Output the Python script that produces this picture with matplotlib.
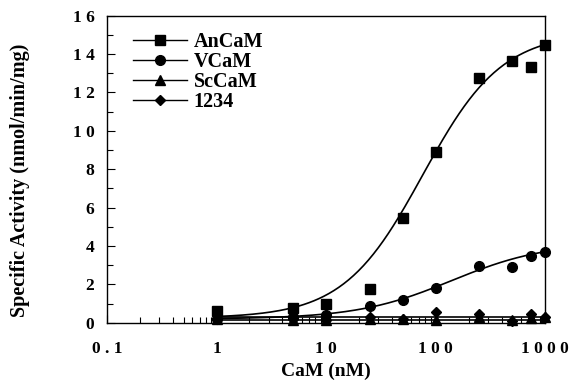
import numpy as np
import matplotlib
matplotlib.use("Agg")
import matplotlib.pyplot as plt
from matplotlib.ticker import FixedLocator, NullFormatter

plt.rcParams['font.family'] = ['Liberation Serif', 'DejaVu Serif']
plt.rcParams['font.weight'] = 'bold'

# Data
cam_nM = [1, 5, 10, 25, 50, 100, 250, 500, 750, 1000]
ancam = [0.6, 0.77, 0.97, 1.79, 5.47, 8.9, 12.78, 13.63, 13.33, 14.46]
vcam = [0.2, 0.3, 0.4, 0.87, 1.18, 1.84, 2.97, 2.92, 3.47, 3.7]
sccam = [0.2, 0.15, 0.15, 0.2, 0.19, 0.14, 0.3, 0.14, 0.25, 0.3]
cam1234 = [0.2, 0.2, 0.15, 0.3, 0.2, 0.55, 0.45, 0.1, 0.45, 0.3]

# Fitted curve parameters (base, Vmax, K, n)
fit_ancam = (0.25, 14.9, 76.3, 1.2)
fit_vcam = (0.2, 4.0, 140.0, 1.0)
fit_sccam = (0.16, 0.0, 100.0, 1.0)
fit_1234 = (0.32, 0.0, 100.0, 1.0)

labels = ['AnCaM', 'VCaM', 'ScCaM', '1234']
markers = ['s', 'o', '^', 'D']
msizes = [7, 7, 7, 5.5]

x_ticks = [0.1, 1, 10, 100, 1000]
x_ticklabels = ['0 . 1', '1', '1 0', '1 0 0', '1 0 0 0']
y_ticks = [0, 2, 4, 6, 8, 10, 12, 14, 16]
y_ticklabels = ['0', '2', '4', '6', '8', '1 0', '1 2', '1 4', '1 6']


def hill(x, p):
    b, v, k, n = p
    return b + v * x**n / (k**n + x**n)


fig = plt.figure(figsize=(5.69, 3.83), dpi=100)
ax = fig.add_axes([0.188, 0.157, 0.770, 0.802])

xs = np.logspace(0, 3, 200)
series = [ancam, vcam, sccam, cam1234]
fits = [fit_ancam, fit_vcam, fit_sccam, fit_1234]
for ys, p, lab, m, ms in zip(series, fits, labels, markers, msizes):
    ax.plot(xs, hill(xs, p), color='black', lw=1.2)
    ax.plot(cam_nM, ys, linestyle='none', marker=m, color='black', markersize=ms,
            clip_on=False, zorder=3)
    ax.plot([], [], color='black', lw=1.0, marker=m, markersize=ms, label=lab)

ax.set_xscale('log')
ax.set_xlim(0.1, 1000)
ax.set_ylim(0, 16)
ax.xaxis.set_major_locator(FixedLocator(x_ticks))
ax.set_xticklabels(x_ticklabels)
minor = [m * 10.0**e for e in range(-1, 3) for m in range(2, 10)]
ax.xaxis.set_minor_locator(FixedLocator(minor))
ax.xaxis.set_minor_formatter(NullFormatter())
ax.set_yticks(y_ticks)
ax.set_yticklabels(y_ticklabels)
ax.yaxis.set_minor_locator(FixedLocator(np.arange(1, 16, 2)))

ax.tick_params(axis='both', which='both', direction='in', top=False, right=False,
               labelsize=12.5, width=0.8)
ax.tick_params(axis='y', which='major', length=6, pad=9)
ax.tick_params(axis='x', which='major', length=6, pad=13)
ax.tick_params(axis='both', which='minor', length=4)
for lab in ax.get_xticklabels() + ax.get_yticklabels():
    lab.set_fontweight('bold')
for s in ax.spines.values():
    s.set_linewidth(1.0)

ax.set_xlabel('CaM (nM)', fontsize=14, fontweight='bold', labelpad=4)
ax.set_ylabel('Specific Activity (nmol/min/mg)', fontsize=14.5, fontweight='bold',
              labelpad=0)
ax.yaxis.set_label_coords(-0.175, 0.465)

leg = ax.legend(loc='upper left', bbox_to_anchor=(0.032, 0.985), frameon=False,
                prop={'size': 14.5, 'weight': 'bold'}, handlelength=2.7,
                handletextpad=0.3, labelspacing=0.0, borderaxespad=0.2)

fig.savefig('out.png', dpi=100)
